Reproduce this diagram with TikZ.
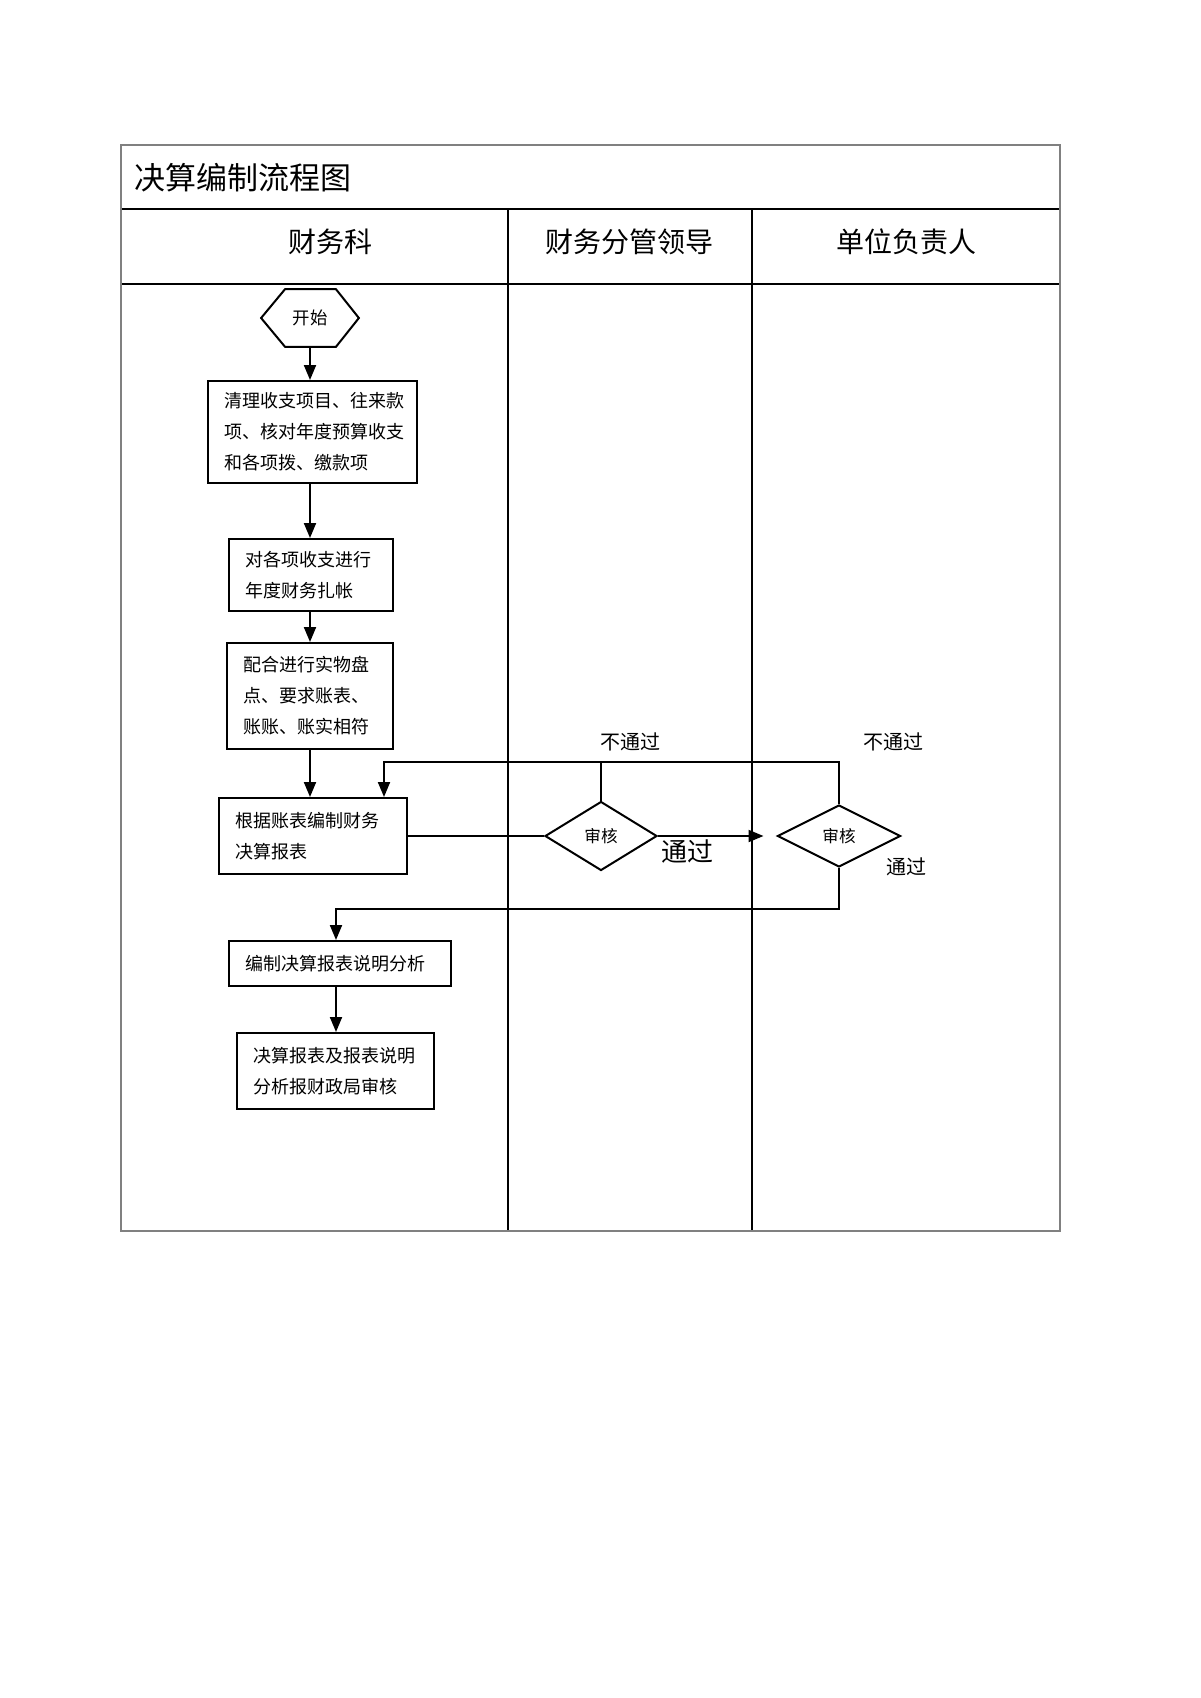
\documentclass[tikz,border=0pt]{standalone}
\usepackage{fontspec}
\newfontfamily\cjk{Noto Sans CJK SC}
\usetikzlibrary{arrows.meta,shapes.geometric}
\begin{document}
\begin{tikzpicture}[x=0.5pt,y=-0.5pt,font=\cjk,
  box/.style={draw,line width=1pt,align=left,inner xsep=8pt,inner ysep=0pt,
    font=\cjk\fontsize{9}{15.5}\selectfont},
  hexn/.style={minimum width=48.5pt,minimum height=28.5pt,inner sep=0pt,
    font=\cjk\fontsize{8.7}{10}\selectfont},
  dia/.style={draw,diamond,line width=1pt,inner sep=0pt,
    font=\cjk\fontsize{8.3}{10}\selectfont},
  arr/.style={-{Triangle[length=7.5pt,width=6pt]},line width=1pt},
  ln/.style={line width=1pt},
  gridline/.style={line width=0.75pt},
  frame/.style={draw=black!50,line width=1.25pt},
  lbl/.style={font=\cjk\fontsize{10}{12}\selectfont,inner sep=0pt},
  head/.style={font=\cjk\fontsize{14}{16}\selectfont,inner sep=0pt}]
\useasboundingbox (0,0) rectangle (1200,1698);
\fill[white] (0,0) rectangle (1200,1698);

% table
\draw[gridline] (121,209) -- (1060,209);
\draw[gridline] (121,284) -- (1060,284);
\draw[gridline] (508,209) -- (508,1231);
\draw[gridline] (752,209) -- (752,1231);
\draw[frame] (121,145) rectangle (1060,1231);

\node[anchor=west,inner sep=0pt,font=\cjk\fontsize{15.5}{18}\selectfont] (title) at (134,178) {决算编制流程图};
\node[head] (h1) at (330,242) {财务科};
\node[head] (h2) at (629,242) {财务分管领导};
\node[head] (h3) at (906,242) {单位负责人};

% start
\node[hexn] (start) at (310,318) {开始};
\draw[ln] (start.west) -- ([xshift=12pt]start.north west) -- ([xshift=-11.5pt]start.north east)
  -- (start.east) -- ([xshift=-11.5pt]start.south east) -- ([xshift=12pt]start.south west) -- cycle;

% boxes
\node[box,text width=88.5pt,minimum height=51pt] (b1) at (312.5,432)
  {清理收支项目、往来款\\项、核对年度预算收支\\和各项拨、缴款项};
\node[box,text width=66pt,minimum height=36pt] (b2) at (311,575)
  {对各项收支进行\\年度财务扎帐};
\node[box,text width=67pt,minimum height=53pt] (b3) at (310,696)
  {配合进行实物盘\\点、要求账表、\\账账、账实相符};
\node[box,text width=78pt,minimum height=38pt] (b4) at (313,836)
  {根据账表编制财务\\决算报表};
\node[box,text width=95pt,minimum height=22.5pt] (b5) at (340,963.5)
  {编制决算报表说明分析};
\node[box,text width=82.5pt,minimum height=38pt] (b6) at (335.5,1071)
  {决算报表及报表说明\\分析报财政局审核};

% diamonds
\node[dia,minimum width=56pt,minimum height=34.5pt] (d1) at (601,836) {审核};
\node[dia,minimum width=61.5pt,minimum height=31pt] (d2) at (839,836) {审核};

% labels
\node[lbl] (n1) at (630,742) {不通过};
\node[lbl] (n2) at (893,742) {不通过};
\node[inner sep=0pt,font=\cjk\fontsize{13}{15}\selectfont] (p1) at (687,852) {通过};
\node[lbl] (p2) at (906,867) {通过};

\coordinate (fb) at (384,762);
\coordinate (pass) at (336,909);

% connectors
\draw[arr] (start.south) -- (start.south |- b1.north);
\draw[arr] (b1.south -| start) -- (b2.north -| start);
\draw[arr] (b2.south -| start) -- (b3.north -| start);
\draw[arr] (b3.south -| start) -- (b4.north -| start);
\draw[arr] (d2.north) |- (fb) -- (fb |- b4.north);
\draw[ln] (d1.north) -- (d1.north |- fb);
\draw[ln] (b4.east) -- (d1.west);
\draw[arr,shorten >=6.5pt] (d1.east) -- (d2.west);
\draw[arr] (d2.south) |- (pass) -- (pass |- b5.north);
\draw[arr] (b5.south -| pass) -- (b6.north -| pass);
\end{tikzpicture}
\end{document}
